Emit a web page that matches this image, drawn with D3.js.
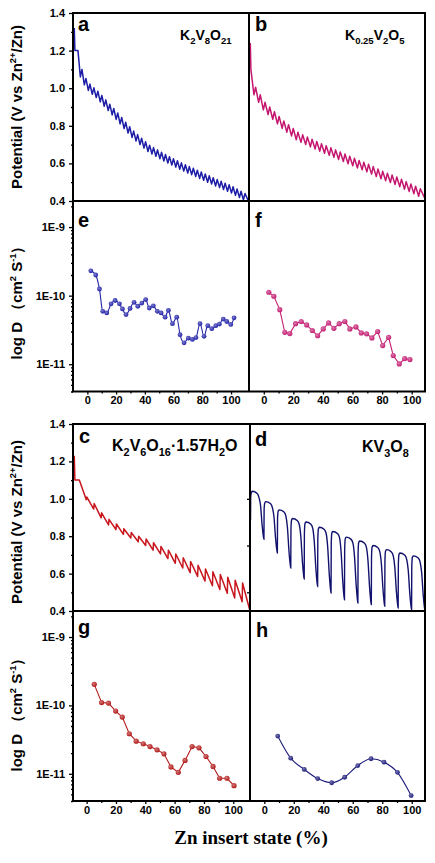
<!DOCTYPE html>
<html>
<head>
<meta charset="utf-8">
<script src="https://cdn.jsdelivr.net/npm/d3@7"></script>
<style>
  body { margin: 0; background: #fff; }
  svg { display: block; }
</style>
</head>
<body>
<svg id="fig" width="435" height="863"></svg>
<script>
// ---------- data ----------
const potTicks = [0.4, 0.6, 0.8, 1.0, 1.2, 1.4];
const potMinor = [0.5, 0.7, 0.9, 1.1, 1.3];
const logTicks = [1e-11, 1e-10, 1e-9];
const logTickLabels = ["1E-11", "1E-10", "1E-9"];
const stateTicks = [0, 20, 40, 60, 80, 100];
const stateMinor = [10, 30, 50, 70, 90];

// a: K2V8O21, GITT potential per pulse (relaxed top / end of pulse)
const aStart = 1.32;
const aPeak = [1.20, 1.10, 1.052, 1.022, 1.002, 0.984, 0.961, 0.938, 0.915, 0.892, 0.868, 0.844, 0.819, 0.795, 0.772,
  0.753, 0.734, 0.715, 0.697, 0.684, 0.672, 0.659, 0.647, 0.636, 0.625, 0.614, 0.603, 0.593, 0.583, 0.574,
  0.564, 0.554, 0.544, 0.534, 0.524, 0.514, 0.505, 0.495, 0.486, 0.476, 0.464, 0.452, 0.44];
const aTrough = [1.06, 1.018, 0.988, 0.968, 0.95, 0.927, 0.904, 0.881, 0.858, 0.834, 0.81, 0.785, 0.761, 0.738, 0.719,
  0.70, 0.681, 0.663, 0.65, 0.638, 0.625, 0.613, 0.602, 0.591, 0.58, 0.569, 0.559, 0.549, 0.54, 0.53,
  0.52, 0.51, 0.50, 0.49, 0.48, 0.471, 0.461, 0.452, 0.442, 0.43, 0.418, 0.406, 0.393];

// b: K0.25V2O5
const bStart = 1.24;
const bPeak = [1.10, 1.005, 0.965, 0.925, 0.90, 0.875, 0.85, 0.826, 0.806, 0.786, 0.766, 0.752, 0.74, 0.728, 0.717,
  0.705, 0.694, 0.683, 0.672, 0.661, 0.65, 0.638, 0.627, 0.616, 0.606, 0.595, 0.583, 0.57, 0.558, 0.548,
  0.538, 0.528, 0.516, 0.503, 0.491, 0.479, 0.465];
const bTrough = [0.965, 0.925, 0.885, 0.86, 0.835, 0.81, 0.786, 0.766, 0.746, 0.726, 0.712, 0.70, 0.688, 0.677, 0.665,
  0.654, 0.643, 0.632, 0.621, 0.61, 0.598, 0.587, 0.576, 0.566, 0.555, 0.543, 0.53, 0.518, 0.508, 0.498,
  0.488, 0.476, 0.463, 0.451, 0.439, 0.425, 0.412];

// c: K2V6O16·1.57H2O
const cStart = 1.23;
const cPeak = [1.10, 1.01, 0.975, 0.925, 0.89, 0.865, 0.84, 0.82, 0.80, 0.785, 0.765, 0.745, 0.725, 0.705, 0.685,
  0.665, 0.645, 0.625, 0.61, 0.595, 0.58, 0.565, 0.55];
const cTrough = [0.995, 0.945, 0.898, 0.86, 0.835, 0.81, 0.79, 0.77, 0.75, 0.725, 0.705, 0.68, 0.655, 0.63, 0.605,
  0.585, 0.56, 0.535, 0.515, 0.495, 0.47, 0.45, 0.40];

// d: KV3O8 (long relaxation cycles)
const dStart = 0.887;
const dTop = [1.04, 0.985, 0.941, 0.895, 0.876, 0.848, 0.825, 0.795, 0.774, 0.75, 0.728, 0.71, 0.695];
const dBottom = [0.784, 0.71, 0.63, 0.571, 0.531, 0.496, 0.46, 0.443, 0.434, 0.425, 0.416, 0.407, 0.40];
const dSideTicks = [0.5, 0.75, 1.0];

// e..h: diffusion coefficient vs Zn insert state (%)
const eState = [2.4, 5.8, 8.4, 10.7, 13.5, 16.5, 19.3, 22.3, 24.4, 26.9, 29.7, 32.5, 35.1, 37.9, 40.6, 43.1, 45.9, 48.7,
  51.3, 54.1, 56.4, 59.2, 62.2, 64.5, 67.3, 70.3, 73.1, 75.6, 78.4, 81.2, 83.8, 86.6, 89.4, 91.9, 94.6, 97, 99.8, 102.1];
const eD = [2.3e-10, 2.0e-10, 1.25e-10, 5.9e-11, 5.6e-11, 7.6e-11, 8.5e-11, 7.6e-11, 6.4e-11, 5.3e-11, 6.5e-11, 8.0e-11,
  7.0e-11, 7.8e-11, 8.75e-11, 6.6e-11, 7.1e-11, 5.9e-11, 5.6e-11, 4.85e-11, 6.1e-11, 3.9e-11, 4.85e-11, 2.7e-11,
  2.05e-11, 2.4e-11, 2.3e-11, 2.45e-11, 3.9e-11, 2.55e-11, 3.65e-11, 3.3e-11, 3.65e-11, 3.85e-11, 4.55e-11, 4.2e-11,
  3.8e-11, 4.75e-11];

const fState = [3.4, 6.8, 10.8, 14.2, 17.6, 21.5, 25.3, 29, 32.8, 36.4, 40.2, 43.8, 47.4, 51, 54.8, 58.2, 62.3, 65.9,
  69.5, 73.1, 77, 80.4, 84.4, 87.5, 91.6, 95.3, 98.8];
const fD = [1.12e-10, 9.8e-11, 6.25e-11, 2.92e-11, 2.8e-11, 3.9e-11, 4.2e-11, 3.74e-11, 3.1e-11, 2.6e-11, 3.27e-11,
  4.0e-11, 3.34e-11, 3.9e-11, 4.2e-11, 3.27e-11, 3.5e-11, 2.86e-11, 2.77e-11, 2.42e-11, 3.0e-11, 1.87e-11, 2.47e-11,
  1.34e-11, 1.01e-11, 1.21e-11, 1.17e-11];

const gState = [5.2, 10.2, 14.9, 19.8, 24.3, 29.1, 33.8, 38.6, 43.2, 48, 52.7, 57.5, 62.5, 67.1, 71.9, 76.6, 81.4, 86.2,
  90.7, 95.7, 100.5];
const gD = [2.03e-10, 1.1e-10, 1.08e-10, 8.26e-11, 6.75e-11, 3.85e-11, 3.0e-11, 2.75e-11, 2.5e-11, 2.24e-11, 1.96e-11,
  1.26e-11, 1.05e-11, 1.57e-11, 2.5e-11, 2.4e-11, 1.79e-11, 1.28e-11, 8.6e-12, 8.6e-12, 6.7e-12];

const hState = [9.1, 17.9, 27.1, 36.2, 45.7, 54.5, 63.4, 72.4, 81.2, 90.3, 99.6];
const hD = [3.56e-11, 1.69e-11, 1.16e-11, 8.5e-12, 7.4e-12, 8.9e-12, 1.32e-11, 1.66e-11, 1.48e-11, 1.05e-11, 4.8e-12];

// ---------- layout ----------
const svg = d3.select("#fig");
const defs = svg.append("defs");

const upper = { left: 73, mid: 249, right: 425, top: 13, split: 201, bottom: 391.5 };
const lower = { left: 73, mid: 250, right: 425, top: 424, split: 611, bottom: 801 };

const colors = {
  a: "#1d1da8", b: "#c4166f", c: "#c8161d", d: "#12126e",
  e: "#2323a8", f: "#c41f74", g: "#b31c1c", h: "#1c1c7a"
};

const sans = '"Liberation Sans", Arial, sans-serif';
const serif = '"Liberation Serif", "Times New Roman", serif';
const fontAxis = 11;

function styleAxis(sel) {
  sel.select(".domain").remove();
  sel.selectAll("line").attr("stroke", "#000").attr("stroke-width", 1.3);
  sel.selectAll("text")
    .style("font-size", fontAxis + "px")
    .style("font-family", sans)
    .style("font-weight", "bold")
    .attr("fill", "#000");
}

function clip(id, x0, y0, x1, y1) {
  defs.append("clipPath").attr("id", id)
    .append("rect").attr("x", x0).attr("y", y0).attr("width", x1 - x0).attr("height", y1 - y0);
  return `url(#${id})`;
}

// GITT trace: relaxed top -> pulse down -> relax back up; riseFrac = share of a step spent rising
function gittPanel(id, x0, x1, y0, y1, lead, start, peaks, troughs, color, riseFrac, withAxis) {
  const n = peaks.length;
  const x = d3.scaleLinear().domain([-lead, n]).range([x0, x1]);
  const y = d3.scaleLinear().domain([0.4, 1.4]).range([y1, y0]);
  const s0 = x.invert(x0 + 1.3);
  const s1 = x.invert(x0 + 1.9);
  const pts = [[s0, start], [s1, peaks[0]]];
  peaks.forEach((p, i) => {
    pts.push([i, p]);
    pts.push([i + 1 - (i < n - 1 ? riseFrac : 0), troughs[i]]);
  });
  const line = d3.line().x(d => x(d[0])).y(d => y(d[1]));
  svg.append("path")
    .attr("clip-path", clip("clip-" + id, x0, y0 - 1, x1, y1 + 1))
    .attr("d", line(pts))
    .attr("fill", "none")
    .attr("stroke", color)
    .attr("stroke-width", 1.5)
    .attr("stroke-linejoin", "round");
  if (withAxis) potAxis(x0, y);
  return y;
}

function potAxis(x0, y) {
  svg.append("g").attr("transform", `translate(${x0},0)`)
    .call(d3.axisLeft(y).tickValues(potTicks).tickSize(4).tickPadding(4).tickFormat(d3.format(".1f")))
    .call(styleAxis);
  svg.append("g").attr("transform", `translate(${x0},0)`)
    .call(d3.axisLeft(y).tickValues(potMinor).tickSize(2).tickFormat(""))
    .call(styleAxis);
}

// KV3O8: steep rise, flat top, curved drop per cycle
function relaxPanel(id, x0, x1, y0, y1, start, tops, bottoms, color) {
  const n = tops.length;
  const x = d3.scaleLinear().domain([0, n]).range([x0 + 0.5, x1]);
  const y = d3.scaleLinear().domain([0.4, 1.4]).range([y1, y0]);
  const pts = [[0, start]];
  tops.forEach((t, i) => {
    const b0 = i === 0 ? start : bottoms[i - 1];
    const b = bottoms[i];
    pts.push([i + 0.015, b0 + 0.8 * (t - b0)]);
    pts.push([i + 0.06, t - 0.008]);
    pts.push([i + 0.13, t]);
    pts.push([i + 0.5, t - 0.012]);
    pts.push([i + 0.64, t - 0.035]);
    pts.push([i + 0.75, t - 0.3 * (t - b)]);
    pts.push([i + 0.87, t - 0.72 * (t - b)]);
    pts.push([i + 0.96, b + 0.06 * (t - b)]);
    pts.push([i + 1, b]);
  });
  const line = d3.line().x(d => x(d[0])).y(d => y(d[1])).curve(d3.curveMonotoneX);
  svg.append("path")
    .attr("clip-path", clip("clip-" + id, x0, y0 - 1, x1, y1 + 1))
    .attr("d", line(pts))
    .attr("fill", "none")
    .attr("stroke", color)
    .attr("stroke-width", 1.4);
}

function ballGradient(id, color) {
  const g = defs.append("radialGradient").attr("id", id)
    .attr("cx", "40%").attr("cy", "38%").attr("r", "60%");
  g.append("stop").attr("offset", "0%").attr("stop-color", d3.interpolateRgb(color, "#fff")(0.4));
  g.append("stop").attr("offset", "100%").attr("stop-color", color);
  return `url(#${id})`;
}

function diffPanel(id, x0, x1, y0, y1, domX, state, D, color, curve, r, withAxis) {
  const x = d3.scaleLinear().domain(domX).range([x0, x1]);
  const y = d3.scaleLog().domain([4e-12, 2.4e-9]).range([y1, y0]);
  const pts = state.map((s, i) => [s, D[i]]);
  const line = d3.line().x(d => x(d[0])).y(d => y(d[1])).curve(curve);
  svg.append("path")
    .attr("d", line(pts))
    .attr("fill", "none")
    .attr("stroke", color)
    .attr("stroke-width", 1.1);
  const fill = ballGradient("ball-" + id, color);
  svg.append("g").selectAll("circle")
    .data(pts)
    .enter().append("circle")
    .attr("cx", d => x(d[0]))
    .attr("cy", d => y(d[1]))
    .attr("r", r)
    .attr("fill", fill);

  // bottom axis
  svg.append("g").attr("transform", `translate(0,${y1})`)
    .call(d3.axisBottom(x).tickValues(stateTicks).tickSize(3).tickPadding(2).tickFormat(d3.format("d")))
    .call(styleAxis);
  svg.append("g").attr("transform", `translate(0,${y1})`)
    .call(d3.axisBottom(x).tickValues(stateMinor).tickSize(2).tickFormat(""))
    .call(styleAxis);

  if (withAxis) {
    svg.append("g").attr("transform", `translate(${x0},0)`)
      .call(d3.axisLeft(y).tickValues(logTicks).tickSize(4).tickPadding(4)
        .tickFormat((d, i) => logTickLabels[i]))
      .call(styleAxis);
    const minor = [];
    [1e-12, 1e-11, 1e-10, 1e-9].forEach(dec => {
      for (let k = 2; k <= 9; k++) minor.push(dec * k);
    });
    svg.append("g").attr("transform", `translate(${x0},0)`)
      .call(d3.axisLeft(y).tickValues(minor.filter(v => v >= 4e-12 && v <= 2.4e-9)).tickSize(2).tickFormat(""))
      .call(styleAxis);
  }
}

function frame(b) {
  const g = svg.append("g").attr("fill", "none").attr("stroke", "#000").attr("stroke-width", 2);
  g.append("rect").attr("x", b.left).attr("y", b.top)
    .attr("width", b.right - b.left).attr("height", b.bottom - b.top);
  g.append("line").attr("x1", b.mid).attr("x2", b.mid).attr("y1", b.top).attr("y2", b.bottom);
  g.append("line").attr("x1", b.left).attr("x2", b.right).attr("y1", b.split).attr("y2", b.split);
}

function txt(x, y, size) {
  return svg.append("text").attr("x", x).attr("y", y)
    .style("font-family", sans).style("font-weight", "bold").style("font-size", size + "px");
}

function panelLetter(x, y, s) {
  txt(x, y, 20).text(s);
}

// parts: [text, kind] where kind 0 normal, 1 subscript
function formula(x, y, size, parts) {
  const t = txt(x, y, size);
  let shifted = false;
  parts.forEach(([s, kind]) => {
    const sp = t.append("tspan").text(s);
    if (kind === 1) {
      sp.style("font-size", (size * 0.68) + "px");
      if (!shifted) { sp.attr("dy", size * 0.3); shifted = true; }
    } else if (shifted) { sp.attr("dy", -size * 0.3); shifted = false; }
  });
}

// parts: [text, kind] where kind 0 normal, 2 superscript
function yTitle(cx, cy, size, parts) {
  const t = svg.append("text")
    .attr("transform", `translate(${cx},${cy}) rotate(-90)`)
    .attr("text-anchor", "middle")
    .style("font-family", sans).style("font-weight", "bold").style("font-size", size + "px");
  let shifted = false;
  parts.forEach(([s, kind]) => {
    const sp = t.append("tspan").text(s);
    if (kind === 2) {
      sp.style("font-size", (size * 0.62) + "px");
      if (!shifted) { sp.attr("dy", -size * 0.38); shifted = true; }
    } else if (shifted) { sp.attr("dy", size * 0.38); shifted = false; }
  });
}

// ---------- upper block ----------
gittPanel("a", upper.left, upper.mid, upper.top, upper.split, 1.25, aStart, aPeak, aTrough, colors.a, 0.4, true);
gittPanel("b", upper.mid, upper.right, upper.top, upper.split, 0.4, bStart, bPeak, bTrough, colors.b, 0.35, false);
diffPanel("e", upper.left, upper.mid, upper.split, upper.bottom, [-10, 112.5], eState, eD, colors.e, d3.curveMonotoneX, 2.4, true);
diffPanel("f", upper.mid, upper.right, upper.split, upper.bottom, [-10, 109], fState, fD, colors.f, d3.curveLinear, 2.6, false);
frame(upper);

// ---------- lower block ----------
gittPanel("c", lower.left, lower.mid, lower.top, lower.split, 0.85, cStart, cPeak, cTrough, colors.c, 0.06, true);
relaxPanel("d", lower.mid, lower.right, lower.top, lower.split, dStart, dTop, dBottom, colors.d);
const ySide = d3.scaleLinear().domain([0.4, 1.4]).range([lower.split, lower.top]);
svg.append("g").attr("transform", `translate(${lower.mid},0)`)
  .call(d3.axisLeft(ySide).tickValues(dSideTicks).tickSize(3).tickFormat(""))
  .call(styleAxis);
diffPanel("g", lower.left, lower.mid, lower.split, lower.bottom, [-9.3, 111.4], gState, gD, colors.g, d3.curveLinear, 2.6, true);
diffPanel("h", lower.mid, lower.right, lower.split, lower.bottom, [-9.7, 109], hState, hD, colors.h, d3.curveMonotoneX, 2.4, false);
frame(lower);

// ---------- labels ----------
panelLetter(78, 31, "a");
panelLetter(255, 31, "b");
panelLetter(78, 227, "e");
panelLetter(255, 227, "f");
panelLetter(79, 443, "c");
panelLetter(255, 446, "d");
panelLetter(78, 634, "g");
panelLetter(256, 637, "h");

formula(180, 40, 14, [["K", 0], ["2", 1], ["V", 0], ["8", 1], ["O", 0], ["21", 1]]);
formula(345, 40, 14, [["K", 0], ["0.25", 1], ["V", 0], ["2", 1], ["O", 0], ["5", 1]]);
formula(112, 451, 16, [["K", 0], ["2", 1], ["V", 0], ["6", 1], ["O", 0], ["16", 1], ["·1.57H", 0], ["2", 1], ["O", 0]]);
formula(362, 452, 16, [["KV", 0], ["3", 1], ["O", 0], ["8", 1]]);

yTitle(22, 107, 15, [["Potential  (V vs Zn", 0], ["2+", 2], ["/Zn)", 0]]);
yTitle(22, 299, 15, [["log  D ", 0], ["（cm", 0], ["2", 2], [" S", 0], ["-1", 2], ["）", 0]]);
yTitle(22, 522, 15, [["Potential  (V vs Zn", 0], ["2+", 2], ["/Zn)", 0]]);
yTitle(22, 711, 15, [["log  D ", 0], ["（cm", 0], ["2", 2], [" S", 0], ["-1", 2], ["）", 0]]);

svg.append("text")
  .attr("x", 251).attr("y", 844)
  .attr("text-anchor", "middle")
  .style("font-family", serif)
  .style("font-weight", "bold")
  .style("font-size", "19px")
  .text("Zn insert state (%)");
</script>
</body>
</html>
